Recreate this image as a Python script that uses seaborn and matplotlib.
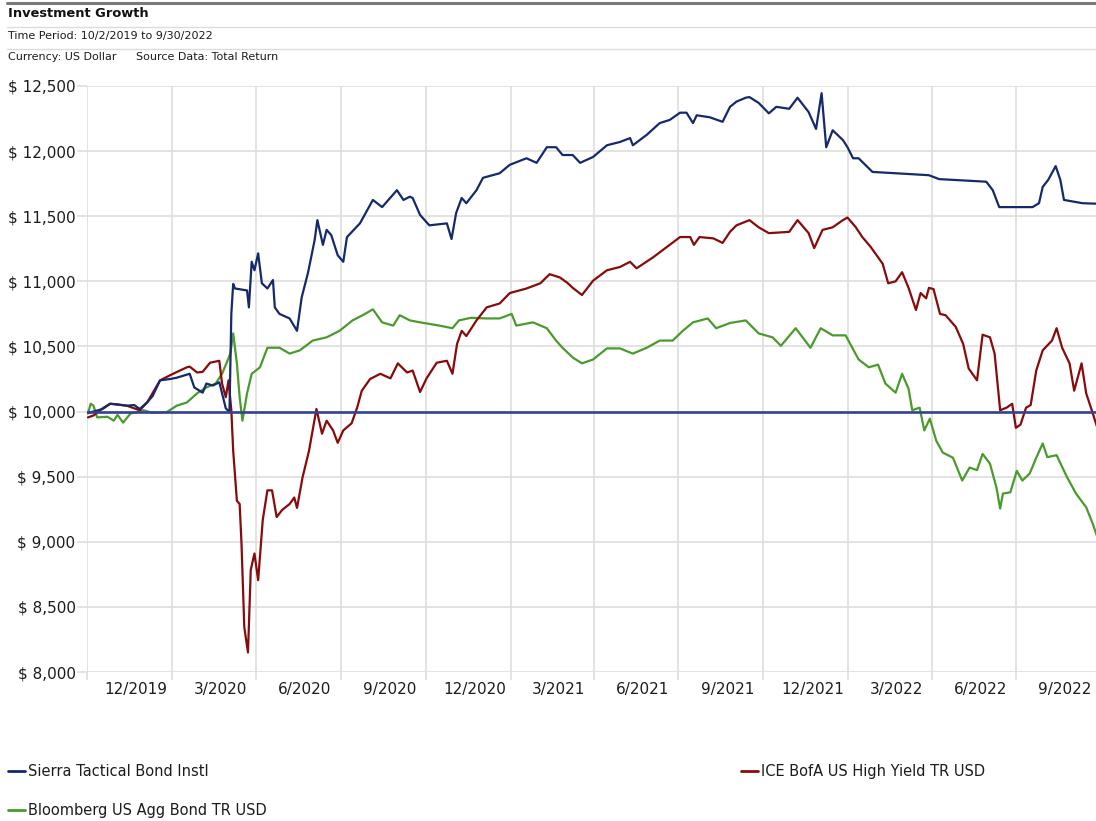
import numpy as np
import pandas as pd
import matplotlib
matplotlib.use("Agg")
import matplotlib.pyplot as plt
import matplotlib.dates as mdates
from matplotlib.ticker import FuncFormatter, FixedLocator, NullFormatter
from matplotlib.lines import Line2D
import seaborn as sns

# ---------------- data ----------------
series_names = ["Sierra Tactical Bond Instl",
                "ICE BofA US High Yield TR USD",
                "Bloomberg US Agg Bond TR USD"]

sierra_dates = [
    "2019-10-02","2019-10-08","2019-10-18","2019-10-26","2019-11-03","2019-11-13","2019-11-21","2019-11-27","2019-12-05","2019-12-11",
    "2019-12-19","2019-12-30","2020-01-06","2020-01-20","2020-01-25","2020-02-03","2020-02-07","2020-02-14","2020-02-21","2020-02-24",
    "2020-02-28","2020-03-03","2020-03-05","2020-03-07","2020-03-09","2020-03-22","2020-03-24","2020-03-27","2020-03-30","2020-04-03",
    "2020-04-07","2020-04-13","2020-04-19","2020-04-21","2020-04-26","2020-05-07","2020-05-15","2020-05-20","2020-05-27","2020-06-03",
    "2020-06-06","2020-06-12","2020-06-16","2020-06-21","2020-06-28","2020-07-04","2020-07-08","2020-07-22","2020-08-05","2020-08-15",
    "2020-08-31","2020-09-07","2020-09-14","2020-09-17","2020-09-25","2020-10-05","2020-10-24","2020-10-29","2020-11-03","2020-11-09",
    "2020-11-14","2020-11-25","2020-12-02","2020-12-20","2020-12-31","2021-01-18","2021-01-29","2021-02-09","2021-02-19","2021-02-26",
    "2021-03-09","2021-03-17","2021-03-31","2021-04-15","2021-04-29","2021-05-10","2021-05-13","2021-05-28","2021-06-11","2021-06-22",
    "2021-07-03","2021-07-10","2021-07-17","2021-07-21","2021-08-04","2021-08-18","2021-08-26","2021-09-02","2021-09-12","2021-09-16",
    "2021-09-26","2021-10-07","2021-10-15","2021-10-29","2021-11-07","2021-11-19","2021-11-27","2021-12-03","2021-12-08","2021-12-15",
    "2021-12-26","2021-12-31","2022-01-06","2022-01-12","2022-01-27","2022-02-21","2022-03-29","2022-04-09","2022-05-30","2022-06-06",
    "2022-06-13","2022-07-19","2022-07-26","2022-07-30","2022-08-05","2022-08-13","2022-08-18","2022-08-22","2022-09-11","2022-09-30"]
sierra_values = [
    9990, 10000, 10020, 10060, 10055, 10045, 10050, 10020, 10070, 10120,
    10240, 10250, 10260, 10290, 10185, 10145, 10215, 10200, 10225, 10140,
    10025, 9995, 10750, 10980, 10945, 10930, 10800, 11150, 11085, 11215,
    10985, 10945, 11010, 10800, 10750, 10715, 10620, 10875, 11070, 11315,
    11470, 11280, 11395, 11355, 11200, 11150, 11340, 11445, 11625, 11570,
    11700, 11625, 11650, 11640, 11510, 11430, 11445, 11325, 11525, 11640,
    11600, 11700, 11795, 11830, 11895, 11945, 11910, 12030, 12030, 11970,
    11970, 11910, 11955, 12045, 12070, 12100, 12045, 12125, 12215, 12240,
    12295, 12295, 12215, 12275, 12260, 12225, 12340, 12380, 12410, 12415,
    12370, 12290, 12340, 12325, 12410, 12300, 12170, 12445, 12030, 12160,
    12085, 12030, 11945, 11945, 11840, 11830, 11815, 11785, 11765, 11700,
    11570, 11570, 11600, 11725, 11780, 11885, 11780, 11625, 11600, 11595]

hy_dates = [
    "2019-10-02","2019-10-08","2019-10-18","2019-10-26","2019-11-13","2019-11-27","2019-12-05","2019-12-19","2020-01-02","2020-01-17",
    "2020-01-20","2020-01-28","2020-02-03","2020-02-11","2020-02-21","2020-02-24","2020-02-28","2020-03-02","2020-03-05","2020-03-07",
    "2020-03-11","2020-03-14","2020-03-16","2020-03-19","2020-03-23","2020-03-26","2020-03-30","2020-04-03","2020-04-08","2020-04-13",
    "2020-04-18","2020-04-23","2020-04-29","2020-05-07","2020-05-12","2020-05-15","2020-05-21","2020-05-28","2020-06-05","2020-06-11",
    "2020-06-16","2020-06-23","2020-06-28","2020-07-04","2020-07-13","2020-07-19","2020-07-24","2020-08-02","2020-08-13","2020-08-24",
    "2020-09-01","2020-09-11","2020-09-17","2020-09-25","2020-10-02","2020-10-13","2020-10-24","2020-10-30","2020-11-04","2020-11-09",
    "2020-11-14","2020-11-25","2020-12-06","2020-12-20","2020-12-31","2021-01-18","2021-02-02","2021-02-12","2021-02-23","2021-03-03",
    "2021-03-09","2021-03-19","2021-03-31","2021-04-15","2021-04-29","2021-05-10","2021-05-17","2021-06-04","2021-06-19","2021-07-03",
    "2021-07-14","2021-07-18","2021-07-24","2021-08-08","2021-08-18","2021-08-26","2021-09-02","2021-09-16","2021-09-26","2021-10-07",
    "2021-10-29","2021-11-07","2021-11-19","2021-11-25","2021-12-04","2021-12-15","2021-12-26","2021-12-31","2022-01-09","2022-01-16",
    "2022-01-25","2022-01-30","2022-02-07","2022-02-13","2022-02-21","2022-02-28","2022-03-07","2022-03-15","2022-03-20","2022-03-26",
    "2022-03-29","2022-04-03","2022-04-10","2022-04-16","2022-04-27","2022-05-05","2022-05-11","2022-05-20","2022-05-26","2022-06-03",
    "2022-06-08","2022-06-14","2022-06-21","2022-06-27","2022-07-01","2022-07-06","2022-07-12","2022-07-17","2022-07-23","2022-07-30",
    "2022-08-09","2022-08-14","2022-08-20","2022-08-28","2022-09-02","2022-09-10","2022-09-15","2022-09-21","2022-09-30"]
hy_values = [
    9955, 9970, 10025, 10060, 10045, 10010, 10070, 10240, 10290, 10340,
    10345, 10300, 10305, 10375, 10390, 10215, 10110, 10240, 10010, 9700,
    9315, 9290, 8985, 8345, 8150, 8785, 8910, 8705, 9170, 9395,
    9395, 9190, 9245, 9290, 9340, 9260, 9495, 9700, 10020, 9830,
    9930, 9855, 9760, 9855, 9910, 10030, 10160, 10250, 10290, 10255,
    10370, 10300, 10315, 10150, 10255, 10375, 10390, 10290, 10520, 10620,
    10580, 10700, 10800, 10830, 10910, 10945, 10985, 11055, 11030, 10990,
    10950, 10895, 11005, 11085, 11110, 11150, 11100, 11185, 11265, 11340,
    11340, 11280, 11340, 11330, 11295, 11380, 11430, 11470, 11415, 11370,
    11380, 11470, 11370, 11255, 11395, 11415, 11470, 11490, 11415, 11340,
    11265, 11215, 11135, 10985, 11000, 11070, 10950, 10780, 10910, 10870,
    10950, 10940, 10750, 10740, 10650, 10520, 10330, 10240, 10590, 10570,
    10445, 10010, 10030, 10060, 9875, 9900, 10030, 10050, 10315, 10470,
    10545, 10640, 10490, 10370, 10160, 10370, 10140, 10010, 9810]

agg_dates = [
    "2019-10-02","2019-10-05","2019-10-08","2019-10-12","2019-10-23","2019-10-30","2019-11-03","2019-11-09","2019-11-17","2019-12-01",
    "2019-12-11","2019-12-26","2020-01-06","2020-01-17","2020-01-28","2020-02-07","2020-02-17","2020-02-24","2020-03-04","2020-03-07",
    "2020-03-11","2020-03-14","2020-03-17","2020-03-22","2020-03-27","2020-04-05","2020-04-13","2020-04-26","2020-05-07","2020-05-18",
    "2020-06-01","2020-06-16","2020-06-30","2020-07-14","2020-07-25","2020-08-05","2020-08-15","2020-08-27","2020-09-03","2020-09-14",
    "2020-09-25","2020-10-16","2020-10-30","2020-11-06","2020-11-19","2020-12-06","2020-12-20","2021-01-02","2021-01-07","2021-01-25",
    "2021-02-09","2021-02-19","2021-02-26","2021-03-09","2021-03-19","2021-03-31","2021-04-15","2021-04-29","2021-05-13","2021-05-28",
    "2021-06-11","2021-06-25","2021-07-06","2021-07-17","2021-08-02","2021-08-11","2021-08-26","2021-09-12","2021-09-26","2021-10-11",
    "2021-10-20","2021-11-05","2021-11-21","2021-12-02","2021-12-15","2021-12-29","2022-01-01","2022-01-12","2022-01-23","2022-02-02",
    "2022-02-10","2022-02-21","2022-02-28","2022-03-07","2022-03-11","2022-03-19","2022-03-24","2022-03-30","2022-04-06","2022-04-13",
    "2022-04-24","2022-05-04","2022-05-12","2022-05-20","2022-05-26","2022-06-03","2022-06-10","2022-06-14","2022-06-17","2022-06-25",
    "2022-07-02","2022-07-08","2022-07-16","2022-07-23","2022-07-30","2022-08-04","2022-08-14","2022-08-25","2022-09-04","2022-09-15",
    "2022-09-22","2022-09-30"]
agg_values = [
    9985, 10060, 10045, 9955, 9960, 9930, 9975, 9915, 9985, 10010,
    9990, 9995, 10045, 10070, 10140, 10185, 10215, 10290, 10445, 10600,
    10370, 10110, 9930, 10140, 10290, 10340, 10490, 10490, 10445, 10470,
    10545, 10570, 10620, 10700, 10740, 10785, 10685, 10660, 10740, 10700,
    10685, 10660, 10640, 10700, 10720, 10715, 10715, 10750, 10660, 10685,
    10640, 10545, 10490, 10415, 10370, 10400, 10485, 10485, 10445, 10490,
    10545, 10545, 10620, 10685, 10715, 10640, 10680, 10700, 10600, 10570,
    10505, 10640, 10490, 10640, 10585, 10585, 10545, 10400, 10340, 10360,
    10215, 10145, 10290, 10175, 10010, 10030, 9855, 9945, 9775, 9685,
    9645, 9470, 9570, 9550, 9675, 9600, 9415, 9255, 9370, 9380,
    9545, 9470, 9525, 9645, 9755, 9650, 9665, 9500, 9370, 9265,
    9140, 8975]

baseline_value = 10000
y_ticks = [8000, 8500, 9000, 9500, 10000, 10500, 11000, 11500, 12000, 12500]
quarter_labels = ["12/2019", "3/2020", "6/2020", "9/2020", "12/2020", "3/2021",
                  "6/2021", "9/2021", "12/2021", "3/2022", "6/2022", "9/2022"]

title_text = "Investment Growth"
period_text = "Time Period: 10/2/2019 to 9/30/2022"
currency_text = "Currency: US Dollar"
source_text = "Source Data: Total Return"

# ---------------- style ----------------
colors = {series_names[0]: "#15296b",
          series_names[1]: "#870b0b",
          series_names[2]: "#4a9a2c"}
baseline_color = "#33438f"
grid_color = "#dedede"
text_color = "#1c1c1c"

sns.set_theme(style="white")
plt.rcParams["font.family"] = ["DejaVu Sans"]

W, H = 1096, 821
fig = plt.figure(figsize=(W / 100, H / 100), dpi=100)
ax = fig.add_axes([87 / W, 1 - 672 / H, 1014 / W, 586 / H])

frames = []
for name, d, v in [(series_names[2], agg_dates, agg_values),
                   (series_names[1], hy_dates, hy_values),
                   (series_names[0], sierra_dates, sierra_values)]:
    frames.append(pd.DataFrame({"Date": pd.to_datetime(d), "Value": v, "Series": name}))
df = pd.concat(frames, ignore_index=True)

sns.lineplot(data=df, x="Date", y="Value", hue="Series",
             hue_order=[series_names[2], series_names[1], series_names[0]],
             palette=colors, linewidth=1.6, estimator=None, legend=False, ax=ax)
ax.axhline(baseline_value, color=baseline_color, lw=1.9, zorder=5)

ax.set_xlim(pd.Timestamp("2019-10-01"), pd.Timestamp("2022-10-01"))
ax.set_ylim(8000, 12500)
ax.set_xlabel("")
ax.set_ylabel("")

for s in ax.spines.values():
    s.set_visible(False)

ax.set_yticks(y_ticks)
ax.yaxis.set_major_formatter(FuncFormatter(lambda v, p: f"$ {v:,.0f}"))
ax.tick_params(axis="y", which="major", length=7.2, width=1.2, color=grid_color,
               pad=1, labelsize=11, labelcolor=text_color, left=True)

ax.xaxis.set_major_locator(mdates.MonthLocator(bymonth=(1, 4, 7, 10), bymonthday=1))
ax.xaxis.set_major_formatter(NullFormatter())
label_pos = []
for lab in quarter_labels:
    m, y = map(int, lab.split("/"))
    end = pd.Timestamp(year=y, month=m, day=1) + pd.offsets.MonthBegin(1)
    start = end - pd.DateOffset(months=3)
    center = start + (end - start) / 2 + pd.Timedelta(days=7)
    label_pos.append(mdates.date2num(center))
ax.xaxis.set_minor_locator(FixedLocator(label_pos))
ax.xaxis.set_minor_formatter(FuncFormatter(lambda v, p: quarter_labels[p] if p is not None and p < len(quarter_labels) else ""))
ax.set_xticks(label_pos, minor=True)
ax.set_xticklabels(quarter_labels, minor=True)
ax.tick_params(axis="x", which="major", length=5.8, width=1.2, color=grid_color,
               bottom=True, labelbottom=False)
ax.tick_params(axis="x", which="minor", length=0, pad=7.5, labelsize=11,
               labelcolor=text_color, bottom=True)

ax.grid(True, which="major", color=grid_color, lw=1.2)
ax.set_axisbelow(True)

# ---------------- header ----------------
fig.add_artist(Line2D([7 / W, 1], [1 - 3 / H] * 2, transform=fig.transFigure,
                      color="#7a7a7a", lw=2.2))
for yy in (27.5, 49.5):
    fig.add_artist(Line2D([7 / W, 1], [1 - yy / H] * 2, transform=fig.transFigure,
                          color="#dcdcdc", lw=1.0))
fig.text(8 / W, 1 - 13.5 / H, title_text, fontsize=9.4, weight="bold",
         va="center", ha="left", color="#111111")
fig.text(8 / W, 1 - 36.5 / H, period_text, fontsize=8, va="center", ha="left", color=text_color)
fig.text(8 / W, 1 - 57.5 / H, currency_text, fontsize=8, va="center", ha="left", color=text_color)
fig.text(136 / W, 1 - 57.5 / H, source_text, fontsize=8, va="center", ha="left", color=text_color)

# ---------------- legend ----------------
legend_rows = [(series_names[0], 8, 771.5),
               (series_names[2], 8, 810.5),
               (series_names[1], 741, 771.5)]
for name, lx, ly in legend_rows:
    h = Line2D([], [], color=colors[name], lw=2)
    fig.legend(handles=[h], labels=[name], loc="center left",
               bbox_to_anchor=(lx / W, 1 - ly / H), frameon=False,
               fontsize=10.5, handlelength=1.16, handletextpad=0.18,
               borderpad=0, borderaxespad=0, labelcolor=text_color)

fig.savefig("out.png", dpi=100)
